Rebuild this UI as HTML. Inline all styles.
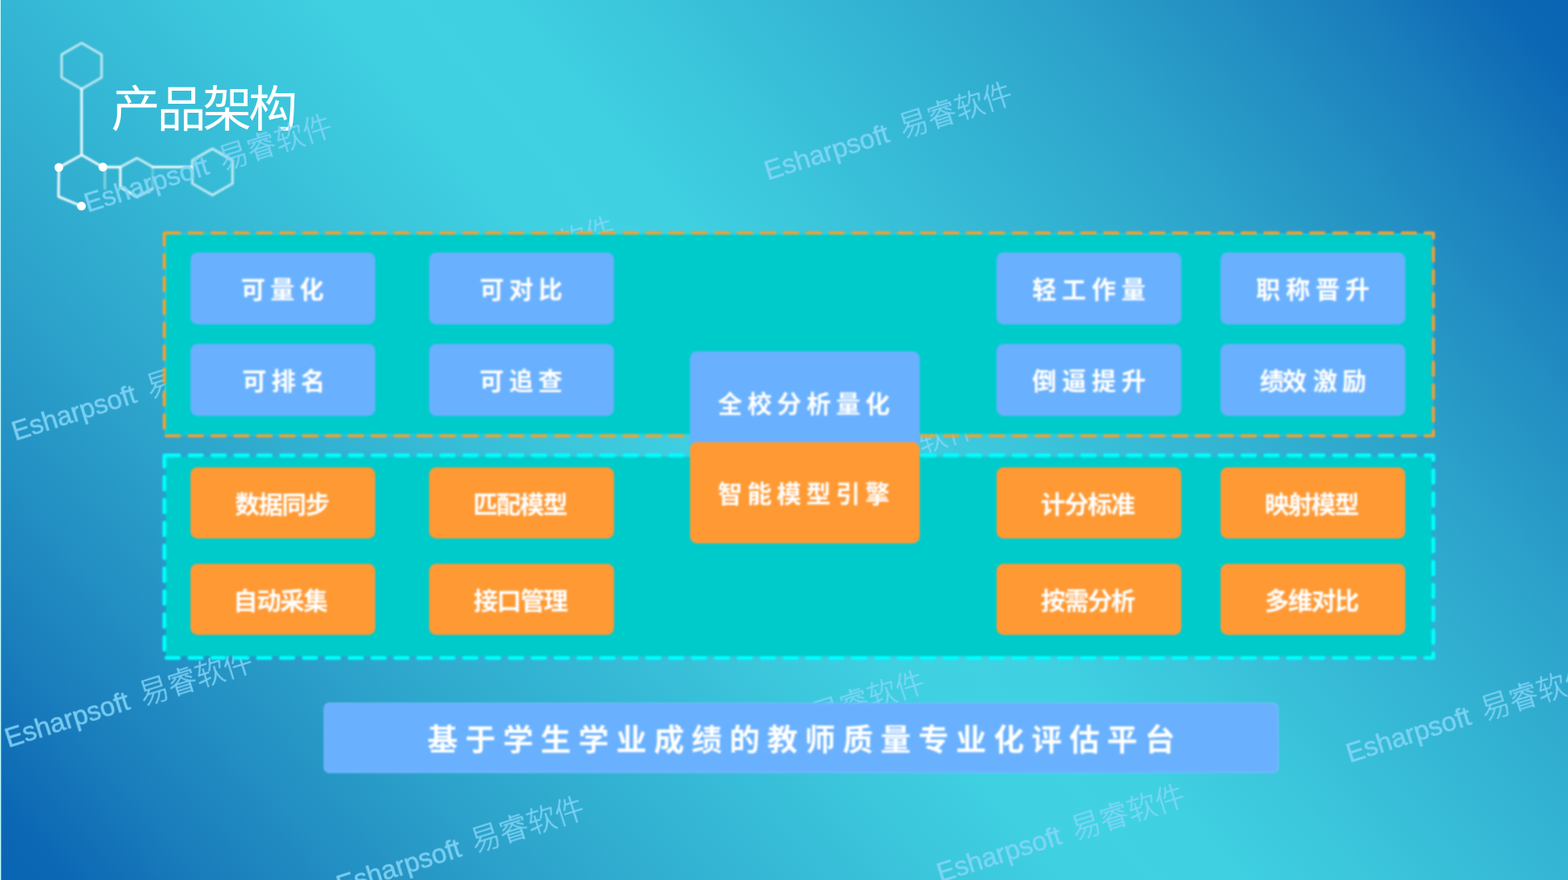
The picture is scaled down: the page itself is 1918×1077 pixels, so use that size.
<!DOCTYPE html>
<html lang="zh-CN">
<head>
<meta charset="utf-8">
<title>产品架构</title>
<style>
html,body{margin:0;padding:0;overflow:hidden}
body{width:1918px;height:1077px;overflow:hidden;position:relative;font-family:"Liberation Sans",sans-serif;
background:linear-gradient(50deg,rgb(9,100,179) 0%,rgb(12,104,180) 3.12%,rgb(20,115,184) 6.25%,rgb(26,126,188) 9.38%,rgb(31,135,191) 12.5%,rgb(35,144,195) 15.62%,rgb(39,152,198) 18.75%,rgb(43,160,202) 21.88%,rgb(46,167,205) 25%,rgb(49,174,208) 28.12%,rgb(51,180,211) 31.25%,rgb(54,186,214) 34.38%,rgb(57,192,217) 37.5%,rgb(59,198,220) 40.62%,rgb(61,203,223) 43.75%,rgb(63,209,226) 46.88%,rgb(64,210,227) 50%,rgb(63,209,226) 53.12%,rgb(61,203,223) 56.25%,rgb(59,198,220) 59.38%,rgb(57,192,217) 62.5%,rgb(54,186,214) 65.62%,rgb(51,180,211) 68.75%,rgb(49,174,208) 71.88%,rgb(46,167,205) 75%,rgb(43,160,202) 78.12%,rgb(39,152,198) 81.25%,rgb(35,144,195) 84.38%,rgb(31,135,191) 87.5%,rgb(26,126,188) 90.62%,rgb(20,115,184) 93.75%,rgb(12,104,180) 96.88%,rgb(9,100,179) 100%);}
.edge{position:absolute;left:0;top:0;width:1px;height:1077px;background:#bffbff;box-shadow:1px 0 0 rgba(90,160,190,.8)}
svg{position:absolute;left:0;top:0;overflow:visible}
.layer{width:1918px;height:1077px;pointer-events:none}
.title{position:absolute;left:138px;top:96px;margin:0;font-size:56px;line-height:70px;font-weight:normal;color:transparent;white-space:nowrap}
.wmtext{position:absolute;color:transparent;font-size:33px;line-height:38px;height:38px;white-space:nowrap;pointer-events:none}
.diagram{position:absolute;left:0;top:0;width:1918px;height:1077px;filter:blur(1px)}
.panel{position:absolute;left:201px;width:1552.3px;background:#00cbcb;background-clip:content-box;padding:2px;box-sizing:border-box}
.p1::before{content:"";position:absolute;left:.8px;top:.8px;right:.8px;bottom:.8px;border:1.3px solid #19dfe0}
.p1{top:285.2px;height:248.2px}
.p2{top:557.2px;height:248px}
.box{position:absolute;border-radius:8.5px;overflow:hidden}
.blue{background:#69b1fe}
.orange{background:#ff9933}
.banner{border-radius:7px;box-shadow:inset 0 0 0 1px rgba(150,200,255,.55);filter:blur(1px)}
.t{position:absolute;left:0;top:0;width:100%;height:100%;display:flex;align-items:center;justify-content:center;
color:transparent;font-size:28px;font-weight:bold;white-space:nowrap}
.g{fill:#fff}
.g text{font-family:"Liberation Sans","Noto Sans CJK SC",sans-serif;font-weight:bold;fill:#fff}
.wm text{font-family:"Liberation Sans","Noto Sans CJK SC",sans-serif;font-weight:300}
</style>
</head>
<body>
<div class="edge"></div>
<svg class="layer" viewBox="0 0 1918 1077" aria-hidden="true"><g fill="none" stroke="#fff" stroke-width="2.8" stroke-linejoin="round" stroke-linecap="round" style="filter:blur(1px)" ><path d="M99.8 52.6L124.22 66.7L124.22 94.9L99.8 109L75.38 94.9L75.38 66.7Z" opacity=".72"/><path d="M99.8 109V189.6"/><path d="M72 205L99.8 189.6L125.9 204.5"/><path d="M72 205L71.6 240.6L99.6 252.2"/><path d="M128.2 207V231" opacity=".45"/><path d="M125.9 204.5H147.2V229L167.5 240.9"/><path d="M147.2 204.5L167.5 193.4L186.8 204.3" opacity=".8"/><path d="M167.5 240.9L186.8 231" opacity=".7"/><path d="M186.8 231V204.3" opacity=".3"/><path d="M186.8 204.4H234.8"/><path d="M259.8 182L284.4 196.2L284.4 224.6L259.8 238.8L235.2 224.6L235.2 196.2Z" opacity=".75"/></g><g fill="#fff"><circle cx="72" cy="205" r="5.4"/><circle cx="125.9" cy="204.5" r="5.4"/><circle cx="99.6" cy="252.2" r="5.4"/></g><g fill="#fff"><text x="136.06 192.06 248.06 304.06" y="154.7" font-size="60" font-family="'Liberation Sans','Noto Sans CJK SC',sans-serif" fill="#fff">产品架构</text></g></svg>
<h1 class="title">产品架构</h1>
<svg class="layer" viewBox="0 0 1918 1077" aria-hidden="true"><g class="wm" fill="#86d6f7" stroke="#86d6f7" stroke-width=".5" opacity=".88"><text transform="translate(110.2 259.2) rotate(-17.5)" x="-3" y="0" font-size="33">Esharpsoft <tspan x="170.08" font-size="35.8">易睿软件</tspan></text><text transform="translate(942.2 219.8) rotate(-17.5)" x="-3" y="0" font-size="33">Esharpsoft <tspan x="170.08" font-size="35.8">易睿软件</tspan></text><text transform="translate(21.6 538.6) rotate(-17.5)" x="-3" y="0" font-size="33">Esharpsoft <tspan x="170.08" font-size="35.8">易睿软件</tspan></text><text transform="translate(456.2 384.7) rotate(-17.5)" x="-3" y="0" font-size="33">Esharpsoft <tspan x="170.08" font-size="35.8">易睿软件</tspan></text><text transform="translate(13.1 914.2) rotate(-17.5)" x="-3" y="0" font-size="33">Esharpsoft <tspan x="170.08" font-size="35.8">易睿软件</tspan></text><text transform="translate(835.2 940) rotate(-17.5)" x="-3" y="0" font-size="33">Esharpsoft <tspan x="170.08" font-size="35.8">易睿软件</tspan></text><text transform="translate(1653.9 932.7) rotate(-17.5)" x="-3" y="0" font-size="33">Esharpsoft <tspan x="170.08" font-size="35.8">易睿软件</tspan></text><text transform="translate(418.7 1094.2) rotate(-17.5)" x="-3" y="0" font-size="33">Esharpsoft <tspan x="170.08" font-size="35.8">易睿软件</tspan></text><text transform="translate(1153.1 1079) rotate(-17.5)" x="-3" y="0" font-size="33">Esharpsoft <tspan x="170.08" font-size="35.8">易睿软件</tspan></text><text transform="translate(896.5 627.6) rotate(-17.5)" x="-3" y="0" font-size="33">Esharpsoft <tspan x="170.08" font-size="35.8">易睿软件</tspan></text></g></svg>
<div class="diagram">
<div class="panel p1">
<div class="box blue" style="left:32.2px;top:24px;width:225.7px;height:87.8px"><span class="t">可量化</span><svg class="g" width="225.7" height="87.8" viewBox="0 0 225.7 87.8"><text x="61.64 97.44 133.24" y="56.15" font-size="29.6">可量化</text></svg></div>
<div class="box blue" style="left:324.2px;top:24px;width:225.7px;height:87.8px"><span class="t">可对比</span><svg class="g" width="225.7" height="87.8" viewBox="0 0 225.7 87.8"><text x="61.68 97.48 133.28" y="56.15" font-size="29.6">可对比</text></svg></div>
<div class="box blue" style="left:1018.2px;top:24px;width:225.7px;height:87.8px"><span class="t">轻工作量</span><svg class="g" width="225.7" height="87.8" viewBox="0 0 225.7 87.8"><text x="43.42 79.82 116.22 152.62" y="56.15" font-size="29.6">轻工作量</text></svg></div>
<div class="box blue" style="left:1292.4px;top:24px;width:225.7px;height:87.8px"><span class="t">职称晋升</span><svg class="g" width="225.7" height="87.8" viewBox="0 0 225.7 87.8"><text x="43.33 79.73 116.13 152.53" y="56.15" font-size="29.6">职称晋升</text></svg></div>
<div class="box blue" style="left:32.2px;top:136.1px;width:225.7px;height:87.8px"><span class="t">可排名</span><svg class="g" width="225.7" height="87.8" viewBox="0 0 225.7 87.8"><text x="63.31 99.11 134.91" y="56.15" font-size="29.6">可排名</text></svg></div>
<div class="box blue" style="left:324.2px;top:136.1px;width:225.7px;height:87.8px"><span class="t">可追查</span><svg class="g" width="225.7" height="87.8" viewBox="0 0 225.7 87.8"><text x="61.61 97.41 133.21" y="56.15" font-size="29.6">可追查</text></svg></div>
<div class="box blue" style="left:1018.2px;top:136.1px;width:225.7px;height:87.8px"><span class="t">倒逼提升</span><svg class="g" width="225.7" height="87.8" viewBox="0 0 225.7 87.8"><text x="43.49 79.89 116.29 152.69" y="56.15" font-size="29.6">倒逼提升</text></svg></div>
<div class="box blue" style="left:1292.4px;top:136.1px;width:225.7px;height:87.8px"><span class="t">绩效 激励</span><svg class="g" width="225.7" height="87.8" viewBox="0 0 225.7 87.8"><text x="48.05 75.55 105.15 113.05 148.55" y="56.15" font-size="29.6">绩效 激励</text></svg></div>
</div>
<div class="panel p2">
<div class="box orange" style="left:32.2px;top:14.4px;width:225.7px;height:87.8px"><span class="t">数据同步</span><svg class="g" width="225.7" height="87.8" viewBox="0 0 225.7 87.8"><text x="54.6 83.2 111.8 140.4" y="56.3" font-size="30">数据同步</text></svg></div>
<div class="box orange" style="left:324.2px;top:14.4px;width:225.7px;height:87.8px"><span class="t">匹配模型</span><svg class="g" width="225.7" height="87.8" viewBox="0 0 225.7 87.8"><text x="53.67 82.27 110.87 139.47" y="56.3" font-size="30">匹配模型</text></svg></div>
<div class="box orange" style="left:1018.2px;top:14.4px;width:225.7px;height:87.8px"><span class="t">计分标准</span><svg class="g" width="225.7" height="87.8" viewBox="0 0 225.7 87.8"><text x="54.04 82.64 111.25 139.84" y="56.3" font-size="30">计分标准</text></svg></div>
<div class="box orange" style="left:1292.4px;top:14.4px;width:225.7px;height:87.8px"><span class="t">映射模型</span><svg class="g" width="225.7" height="87.8" viewBox="0 0 225.7 87.8"><text x="53.92 82.52 111.12 139.72" y="56.3" font-size="30">映射模型</text></svg></div>
<div class="box orange" style="left:32.2px;top:132.5px;width:225.7px;height:87.8px"><span class="t">自动采集</span><svg class="g" width="225.7" height="87.8" viewBox="0 0 225.7 87.8"><text x="52.35 80.95 109.55 138.15" y="56.3" font-size="30">自动采集</text></svg></div>
<div class="box orange" style="left:324.2px;top:132.5px;width:225.7px;height:87.8px"><span class="t">接口管理</span><svg class="g" width="225.7" height="87.8" viewBox="0 0 225.7 87.8"><text x="54.21 82.81 111.41 140.01" y="56.3" font-size="30">接口管理</text></svg></div>
<div class="box orange" style="left:1018.2px;top:132.5px;width:225.7px;height:87.8px"><span class="t">按需分析</span><svg class="g" width="225.7" height="87.8" viewBox="0 0 225.7 87.8"><text x="54.3 82.9 111.5 140.1" y="56.3" font-size="30">按需分析</text></svg></div>
<div class="box orange" style="left:1292.4px;top:132.5px;width:225.7px;height:87.8px"><span class="t">多维对比</span><svg class="g" width="225.7" height="87.8" viewBox="0 0 225.7 87.8"><text x="53.98 82.58 111.19 139.78" y="56.3" font-size="30">多维对比</text></svg></div>
</div>
<svg class="layer" viewBox="0 0 1918 1077" aria-hidden="true">
<rect x="201" y="285.2" width="1552.3" height="248.2" fill="none" stroke="#f6a030" stroke-width="3.8" stroke-dasharray="16.25 11.75" stroke-linecap="round" stroke-linejoin="round" stroke-dashoffset="-2.3"/>
<rect x="201" y="557.2" width="1552.3" height="248" fill="none" stroke="#00ffff" stroke-width="4.5" stroke-dasharray="15.55 12.45" stroke-linecap="round" stroke-linejoin="round" stroke-dashoffset="-2.65"/>
</svg>
<div class="box blue" style="left:843.7px;top:429.5px;width:281.3px;height:118.5px"><span class="t">全校分析量化</span><svg class="g" width="281.3" height="118.5" viewBox="0 0 281.3 118.5"><text x="34.09 70.19 106.29 142.39 178.49 214.59" y="75.3" font-size="30">全校分析量化</text></svg></div>
<div class="box orange" style="left:843.7px;top:541.4px;width:281.3px;height:123.6px"><span class="t">智能模型引擎</span><svg class="g" width="281.3" height="123.6" viewBox="0 0 281.3 123.6"><text x="33.88 69.98 106.08 142.19 178.28 214.38" y="74" font-size="30">智能模型引擎</text></svg></div>
</div>
<div class="box blue banner" style="left:395.6px;top:860.3px;width:1168.4px;height:85.3px"><span class="t">基于学生学业成绩的教师质量专业化评估平台</span><svg class="g" width="1168.4" height="85.3" viewBox="0 0 1168.4 85.3"><text x="126.75" y="59.24" font-size="37.2" letter-spacing="9">基于学生学业成绩的教师质量专业化评估平台</text></svg></div>
<div class="wmtext" style="left:110.2px;top:221.2px">Esharpsoft 易睿软件</div>
<div class="wmtext" style="left:942.2px;top:181.8px">Esharpsoft 易睿软件</div>
<div class="wmtext" style="left:21.6px;top:500.6px">Esharpsoft 易睿软件</div>
<div class="wmtext" style="left:456.2px;top:346.7px">Esharpsoft 易睿软件</div>
<div class="wmtext" style="left:13.1px;top:876.2px">Esharpsoft 易睿软件</div>
<div class="wmtext" style="left:835.2px;top:902px">Esharpsoft 易睿软件</div>
<div class="wmtext" style="left:1653.9px;top:894.7px">Esharpsoft 易睿软件</div>
<div class="wmtext" style="left:418.7px;top:1039px">Esharpsoft 易睿软件</div>
<div class="wmtext" style="left:1153.1px;top:1039px">Esharpsoft 易睿软件</div>
<div class="wmtext" style="left:896.5px;top:589.6px">Esharpsoft 易睿软件</div>
</body>
</html>
